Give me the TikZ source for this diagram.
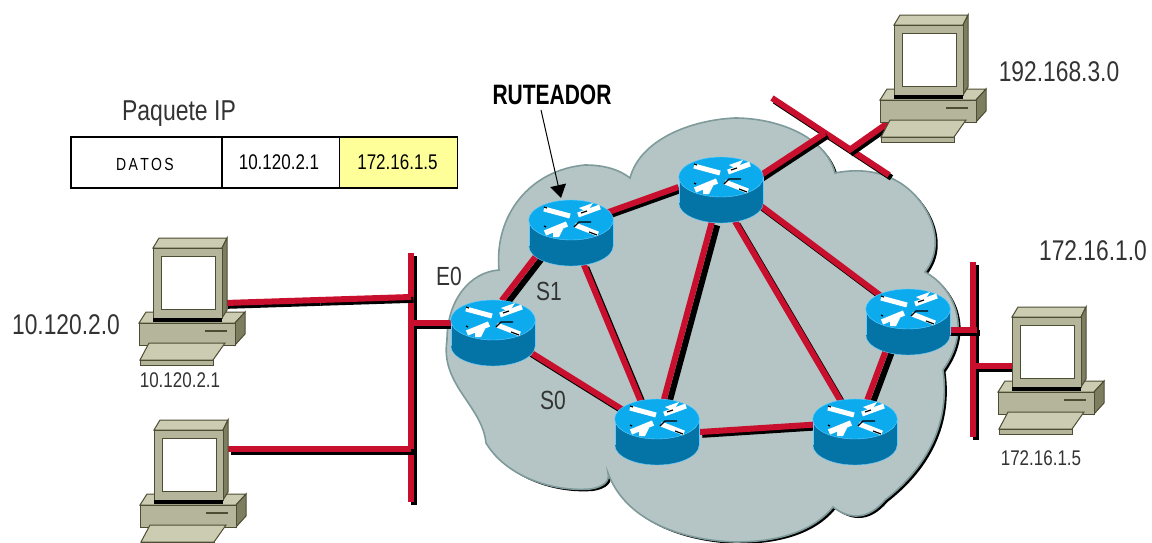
\documentclass[tikz,border=0pt]{standalone}
\usepackage{fontspec}
\setmainfont{Liberation Sans}
\usetikzlibrary{shapes.geometric,arrows.meta}
\definecolor{cloudfill}{HTML}{B5C5C5}
\definecolor{cloudline}{HTML}{7F9A9A}
\definecolor{wirered}{HTML}{C8102E}
\definecolor{rtop}{HTML}{0CABEE}
\definecolor{rside}{HTML}{0474A6}
\definecolor{redge}{HTML}{66CCFF}
\definecolor{pcface}{HTML}{B5B59C}
\definecolor{pclight}{HTML}{CCCCB3}
\definecolor{pcdark}{HTML}{7D7D60}
\definecolor{pcline}{HTML}{4D4D33}
\definecolor{packetyellow}{HTML}{FFFF99}
\newcommand{\tall}[1]{\scalebox{1}[1.25]{#1}}
\newcommand{\wire}[2]{%
  \draw[wireshadow] ([shift={(2.5,2.8)}]#1) -- ([shift={(2.5,2.8)}]#2);
  \draw[wireline] (#1) -- (#2);}
\newcommand{\widewire}[2]{%
  \draw[wireshadow] ([shift={(5.5,3)}]#1) -- ([shift={(5.5,3)}]#2);
  \draw[wireline] (#1) -- (#2);}
\newcommand{\routergfx}[1]{%
  \begin{scope}[shift={(#1)}]
    \fill[rside] (-42,0) rectangle (42,26);
    \fill[rside] (0,26) ellipse [x radius=42, y radius=20];
    \draw[redge] (-42.3,0) -- (-42.3,26);
    \draw[redge] (42.3,0) -- (42.3,26);
    \draw[redge] (-42.3,26) arc [start angle=180, end angle=360, x radius=42.3, y radius=-20];
    \fill[rtop,draw=redge] (0,0) ellipse [x radius=42.3, y radius=20];
    \draw[white,line width=5pt] (-27,-11) -- (-1,-4);
    \draw[white,line width=5pt] (29,-13) -- (7,-5);
    \draw[white,line width=5.5pt] (-26,13) -- (-4,4);
    \draw[white,line width=5pt] (4,5) -- (27,14);
    \fill[white] (-18,17) -- (-12,17) -- (-8,9) -- (-18,10) -- cycle;
    \fill[white] (8,-12) -- (22,-17) -- (16,-8) -- cycle;
    \draw[black,line width=1.2pt] (-27,-13) -- (-24,-12) (10,-7) -- (16,-9) (-27,6) -- (-25,7) (3,7) -- (8,2) -- (20,2) (18,12) -- (26,15);
  \end{scope}}
\newcommand{\pcgfx}[1]{%
  \begin{scope}[shift={(#1)},pcstroke/.style={draw=pcline,line width=1pt}]
    % printer base
    \fill[pclight,pcstroke] (0,85) -- (7,74) -- (106,74) -- (96,85) -- cycle;
    \fill[pcdark,pcstroke] (106,74) -- (106,96) -- (96,107) -- (96,85) -- cycle;
    \fill[pcface,pcstroke] (0,85) rectangle (96,107);
    \draw[pcline,line width=1.5pt] (66,93) -- (88,93);
    % monitor
    \fill[pclight,pcstroke] (14,10) -- (20,0) -- (88,0) -- (83,10) -- cycle;
    \fill[pcdark,pcstroke] (88,0) -- (88,72) -- (83,80) -- (83,10) -- cycle;
    \fill[pcface,pcstroke] (14,10) rectangle (83,80);
    \fill[black] (14,80) rectangle (83,84);
    \fill[white,pcstroke] (22,18) rectangle (76,71);
    % keyboard
    \fill[pclight,pcstroke] (10,105) -- (86,105) -- (74,122) -- (1,122) -- cycle;
    \fill[pcface,pcstroke] (1,122) rectangle (74,127);
  \end{scope}}
\newcommand{\cloudpath}{(499,270)
  .. controls (494,215) and (530,170) .. (585,165)
  .. controls (605,165) and (620,170) .. (630,178)
  .. controls (640,140) and (690,120) .. (735,118)
  .. controls (775,118) and (825,135) .. (835,173)
  .. controls (860,168) and (880,172) .. (895,180)
  .. controls (925,195) and (950,240) .. (925,272)
  .. controls (950,285) and (975,325) .. (943,370)
  .. controls (950,420) and (930,465) .. (885,500)
  .. controls (868,520) and (850,520) .. (833,507)
  .. controls (810,535) and (770,542) .. (735,542)
  .. controls (680,540) and (625,520) .. (608,473)
  .. controls (610,480) and (605,487) .. (590,489)
  .. controls (550,492) and (505,475) .. (486,443)
  .. controls (482,405) and (440,385) .. (447,340)
  .. controls (447,300) and (470,272) .. (499,270) -- cycle}
\tikzset{
  x=1pt,y=-1pt,
  wireline/.style={draw=wirered,line width=6pt},
  wireshadow/.style={draw=black,line width=6pt},
  rnode/.style={ellipse,minimum width=85pt,minimum height=66pt,inner sep=0pt},
  lab/.style={inner sep=0pt,text=black!80},
  cell/.style={draw=black,line width=1.2pt,minimum height=51pt,inner sep=0pt},
  cloudshape/.style={fill=cloudfill,draw=cloudline,line width=1.6pt},
}
\begin{document}
\begin{tikzpicture}
\useasboundingbox (0,0) rectangle (1152,542);
\fill[white] (0,0) rectangle (1152,542);
% cloud
\begin{scope}
  \clip (0,0) rectangle (1152,542);
  \begin{scope}[shift={(2.5,2)}]
    \fill[black] \cloudpath;
  \end{scope}
  \path[cloudshape] \cloudpath;
\end{scope}
% routers as anchors
\node[rnode] (r1) at (571,233) {};
\node[rnode] (r2) at (721,190) {};
\node[rnode] (rl) at (493,333) {};
\node[rnode] (rr) at (908,322) {};
\node[rnode] (rb) at (657,432) {};
\node[rnode] (rbr) at (855,432) {};
% segment ends
\coordinate (leftTop) at (411,253);
\coordinate (leftBot) at (411,502);
\coordinate (pc1w) at (225,303);
\coordinate (pc1m) at (318,300);
\coordinate (pc1b) at (411,297);
\coordinate (pc2w) at (228,449);
\coordinate (pc2b) at (411,449);
\coordinate (rlb) at (411,323);
\coordinate (rlw) at (453,323);
\coordinate (rightTop) at (973,262);
\coordinate (rightBot) at (973,437);
\coordinate (rrb) at (977,330);
\coordinate (rrw) at (945,330);
\coordinate (pc3b) at (974,366);
\coordinate (pc3w) at (1012,366);
\coordinate (topA) at (772,98);
\coordinate (topB) at (889,175);
\coordinate (topJ) at (825,133);
\coordinate (topK) at (848,151);
\coordinate (pc4w) at (892,120);
% wires
\wire{leftTop}{leftBot}
\wire{pc1w}{pc1m}
\wire{pc1m}{pc1b}
\wire{pc2w}{pc2b}
\wire{rlb}{rlw}
\wire{rightTop}{rightBot}
\wire{rrw}{rrb}
\wire{pc3b}{pc3w}
\wire{topA}{topB}
\wire{topJ}{r2.20}
\wire{topK}{pc4w}
\wire{r1.30}{r2.176}
\widewire{r1.212}{rl.75}
\wire{r1.292}{rb.118}
\widewire{r2.254}{rb.78}
\wire{r2.339}{rr.136}
\wire{r2.294}{rbr.115}
\wire{rl.333}{rb.147}
\wire{rb.0}{rbr.170}
\widewire{rbr.69}{rr.232}
% routers
\routergfx{571,220}
\routergfx{721,177}
\routergfx{493,320}
\routergfx{908,309}
\routergfx{657,419}
\routergfx{855,419}
% computers
\pcgfx{139,238}
\pcgfx{140,420}
\pcgfx{998,307}
\pcgfx{880,15}
% packet
\node[lab,font=\fontsize{23}{26}\selectfont] (pkt) at (179,114) {\tall{Paquete IP}};
\node[cell,minimum width=151pt] (c1) at (146.5,162.5) {};
\node[cell,minimum width=118pt] (c2) at (281,162.5) {};
\node[cell,minimum width=118pt,fill=packetyellow] (c3) at (398.5,162.5) {};
\node[lab,font=\fontsize{14}{16}\selectfont,text=black] (t1) at (145,164) {\tall{D\,A\,T\,O\,S}};
\node[lab,font=\fontsize{17}{20}\selectfont,text=black] (t2) at (279,162) {\tall{10.120.2.1}};
\node[lab,font=\fontsize{17}{20}\selectfont,text=black] (t3) at (397.5,162) {\tall{172.16.1.5}};
% labels
\node[lab,font=\bfseries\fontsize{24}{28}\selectfont,text=black] (ruteador) at (552,95) {\scalebox{.875}[1.17]{RUTEADOR}};
\coordinate (rstart) at (541,110);
\coordinate (rtip) at (561,198);
\draw[black,line width=1pt,-{Triangle[length=13pt,width=16pt]}] (rstart) -- (rtip);
\node[lab,font=\fontsize{22.8}{26}\selectfont] (n1) at (66,325) {\tall{10.120.2.0}};
\node[lab,font=\fontsize{22.8}{26}\selectfont] (n2) at (1059,72) {\tall{192.168.3.0}};
\node[lab,font=\fontsize{22.8}{26}\selectfont] (n3) at (1093,251) {\tall{172.16.1.0}};
\node[lab,font=\fontsize{17}{20}\selectfont] (h1) at (180,380) {\tall{10.120.2.1}};
\node[lab,font=\fontsize{17}{20}\selectfont] (h3) at (1041,458) {\tall{172.16.1.5}};
\node[lab,font=\fontsize{21}{24}\selectfont] (e0) at (449,276) {\tall{E0}};
\node[lab,font=\fontsize{21}{24}\selectfont] (s1) at (549,291) {\tall{S1}};
\node[lab,font=\fontsize{21}{24}\selectfont] (s0) at (553,400) {\tall{S0}};
\end{tikzpicture}
\end{document}
